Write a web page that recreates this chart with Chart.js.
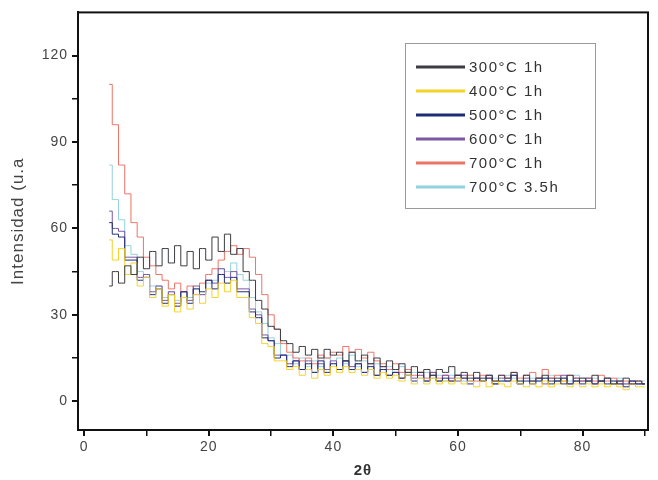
<!DOCTYPE html>
<html>
<head>
<meta charset="utf-8">
<script src="https://cdn.jsdelivr.net/npm/chart.js@4.4.1/dist/chart.umd.min.js"></script>
<style>
  html, body { margin: 0; padding: 0; background: #fff; }
  #wrap { width: 658px; height: 480px; }
</style>
</head>
<body>
<div id="wrap"><canvas id="myChart"></canvas></div>
<script>
// 2-theta positions (degrees)
const twoTheta = [4,5,6,7,8,9,10,11,12,13,14,15,16,17,18,19,20,21,22,23,24,25,26,27,28,29,30,31,32,33,34,35,36,37,38,39,40,41,42,43,44,45,46,47,48,49,50,51,52,53,54,55,56,57,58,59,60,61,62,63,64,65,66,67,68,69,70,71,72,73,74,75,76,77,78,79,80,81,82,83,84,85,86,87,88,89,90];

const s300 = [40,45,41,47,44,50,46,52,47,53, 48,54,47,52,46,53,49,57,52,58, 51,53,45,42,35,32,26,25,21,20, 17,19,16,18,15,18,16,17,14,17, 14,16,13,15,12,14,11,13,10,12, 10,11,9,11,10,12,9,10,8,10, 8,9,7,9,8,10,7,9,7,8, 9,7,8,6,9,7,8,7,9,7, 8,6,7,8,6,7,6];
const s400 = [56,49,53,44,48,40,43,36,39,33, 37,31,36,32,37,34,39,36,41,38, 42,36,36,29,27,20,19,14,14,11, 12,9,11,8,11,9,12,10,12,10, 11,9,11,8,10,8,9,7,9,6, 8,6,8,6,7,6,8,6,7,5, 7,5,7,6,5,7,6,5,6,5, 7,5,6,7,5,6,5,6,5,6, 5,6,5,4,6,5,5];
const s500 = [62,58,57,49,49,42,43,37,39,34, 37,33,38,34,39,38,42,39,44,41, 43,38,38,31,29,22,21,15,16,12, 14,11,13,10,14,10,13,11,14,11, 13,10,12,9,11,9,10,8,9,7, 10,7,9,7,8,7,9,8,6,8, 7,8,6,7,7,9,6,7,6,7, 8,6,7,8,6,7,6,7,6,7, 6,7,6,5,7,6,6];
const s600 = [66,60,59,50,50,43,44,38,40,35, 38,34,38,35,40,37,42,41,46,43, 45,39,39,32,30,23,21,16,16,13, 14,11,14,10,13,11,14,11,14,12, 13,10,13,9,12,9,10,8,10,8, 9,7,10,7,9,8,7,9,7,8, 7,9,6,8,7,9,6,8,7,8, 6,8,7,9,6,8,7,8,6,7, 8,6,7,6,7,6,6];
const s700a = [110,96,82,72,62,57,50,47,44,42, 39,41,38,40,37,41,44,46,49,52, 54,51,53,50,44,37,30,25,20,17, 15,14,15,13,16,15,17,16,19,17, 18,15,17,14,13,11,13,10,11,9, 10,8,10,8,9,7,9,8,9,7, 9,8,7,9,8,10,8,9,10,8, 11,8,9,7,9,8,7,8,7,9, 7,8,6,7,6,7,6];
const s700b = [82,70,63,54,51,45,44,40,40,36, 38,35,38,36,39,37,41,42,46,45, 48,44,42,36,31,27,22,20,16,16, 13,15,12,14,12,15,13,15,13,16, 12,14,11,13,11,12,10,12,9,10, 8,10,8,9,7,9,8,7,9,8, 7,9,8,7,9,8,7,9,8,7, 8,9,7,8,7,9,8,7,8,7, 8,7,8,6,7,6,7];

const labels = ['300°C 1h', '400°C 1h', '500°C 1h', '600°C 1h', '700°C 1h', '700°C 3.5h'];
const colors = ['#3c3d44', '#f4d22a', '#1f2d78', '#7b56a3', '#ec7466', '#92d2dc'];
const series = [s300, s400, s500, s600, s700a, s700b];

const yMajor = [0, 30, 60, 90, 120];
const yMinor = [15, 45, 75, 105];
const xMajor = [0, 20, 40, 60, 80];
const xMinor = [10, 30, 50, 70, 90];

const ctx = document.getElementById('myChart').getContext('2d');

// spacing trick so the text looks as wide as in the picture
const spacing = {
    id: 'spacing',
    beforeUpdate(chart) { chart.ctx.letterSpacing = '1px'; },
    beforeDraw(chart) { chart.ctx.letterSpacing = '1px'; }
};

// box around the plot + legend inside it
const frame = {
    id: 'frame',
    afterDraw(chart) {
        const c = chart.ctx, a = chart.chartArea;
        c.save();
        c.strokeStyle = '#111';
        c.lineWidth = 2;
        c.strokeRect(a.left, a.top, a.right - a.left, a.bottom - a.top);

        // legend
        c.strokeStyle = '#9a9a9a';
        c.lineWidth = 1;
        c.strokeRect(405.5, 43.5, 190, 165);
        c.font = '15px "Liberation Sans", Arial, sans-serif';
        c.letterSpacing = '1.5px';
        c.textBaseline = 'middle';
        chart.data.datasets.forEach((ds, i) => {
            const y = 67 + i * 24;
            c.strokeStyle = ds.borderColor;
            c.lineWidth = 3;
            c.beginPath();
            c.moveTo(416, y);
            c.lineTo(465, y);
            c.stroke();
            c.fillStyle = '#333';
            c.fillText(ds.label, 469, y + 1);
        });
        c.restore();
    }
};

const myChart = new Chart(ctx, {
    type: 'line',
    data: {
        datasets: series.map((s, i) => ({
            label: labels[i],
            data: s.map((v, j) => ({ x: twoTheta[j], y: v })),
            borderColor: colors[i],
            borderWidth: 1,
            pointRadius: 0,
            stepped: 'middle',
            fill: false
        }))
    },
    options: {
        responsive: true,
        maintainAspectRatio: false,
        animation: false,
        layout: { padding: { top: 8, right: 10, left: 0, bottom: 0 } },
        plugins: {
            legend: { display: false },
            tooltip: { enabled: false }
        },
        scales: {
            x: {
                type: 'linear',
                min: -1,
                max: 90.5,
                afterBuildTicks: s => { s.ticks = xMajor.concat(xMinor).sort((a, b) => a - b).map(v => ({ value: v })); },
                afterFit: s => { s.height = 50; },
                border: { display: true, color: '#111', width: 2 },
                grid: {
                    drawOnChartArea: false,
                    drawTicks: true,
                    tickLength: 6,
                    color: '#111',
                    lineWidth: c => (c.tick && c.tick.value % 20 === 0) ? 2 : 1.5
                },
                ticks: {
                    autoSkip: false,
                    maxRotation: 0,
                    padding: 3,
                    color: '#444',
                    font: { family: '"Liberation Sans", Arial, sans-serif', size: 14 },
                    callback: v => (v % 20 === 0 ? v : '')
                },
                title: {
                    display: true,
                    text: '2θ',
                    color: '#333',
                    padding: { top: 0, bottom: 0 },
                    font: { family: '"Liberation Sans", Arial, sans-serif', size: 15, weight: 'bold' }
                }
            },
            y: {
                type: 'linear',
                min: -10,
                max: 135,
                afterBuildTicks: s => { s.ticks = yMajor.concat(yMinor).sort((a, b) => a - b).map(v => ({ value: v })); },
                afterFit: s => { s.width = 78; },
                border: { display: true, color: '#111', width: 2 },
                grid: {
                    drawOnChartArea: false,
                    drawTicks: true,
                    tickLength: 6,
                    color: '#111',
                    lineWidth: c => (c.tick && c.tick.value % 30 === 0) ? 2 : 1.5
                },
                ticks: {
                    autoSkip: false,
                    padding: 4,
                    color: '#444',
                    font: { family: '"Liberation Sans", Arial, sans-serif', size: 14 },
                    callback: v => (v % 30 === 0 ? v : '')
                },
                title: {
                    display: true,
                    text: 'Intensidad (u.a',
                    color: '#444',
                    padding: { top: 8, bottom: 0 },
                    font: { family: '"Liberation Sans", Arial, sans-serif', size: 17 }
                }
            }
        }
    },
    plugins: [spacing, frame]
});
</script>
</body>
</html>
